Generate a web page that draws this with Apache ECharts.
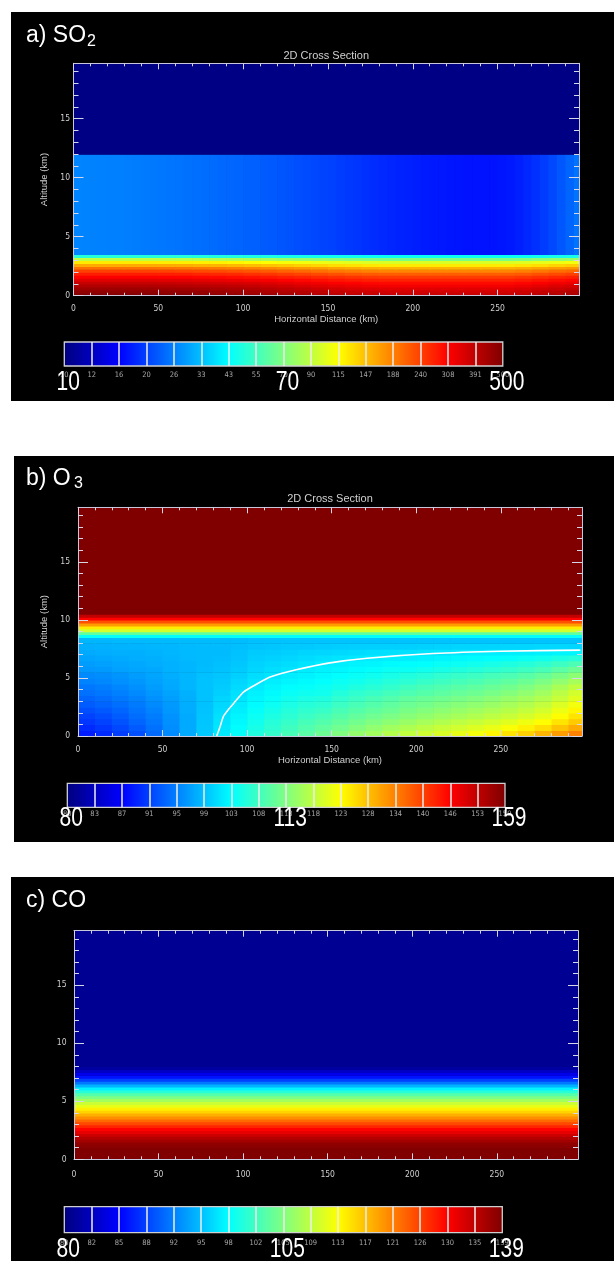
<!DOCTYPE html>
<html><head><meta charset="utf-8">
<script src="https://cdn.jsdelivr.net/npm/echarts@6/dist/echarts.min.js"></script>
<style>html,body{margin:0;padding:0;background:#fff}#c{width:614px;height:1261px}</style>
</head><body><div id="c"></div>
<script>
// ---------------- DATA ----------------
const distMax = 298;          // km, right edge of the cross section
const altMax = 19.7;          // km, top of the cross section
const xMajorTicks = [0, 50, 100, 150, 200, 250];
const xMinorTicks = [0,10,20,30,40,50,60,70,80,90,100,110,120,130,140,150,160,170,180,190,200,210,220,230,240,250,260,270,280,290];
const yMajorTicks = [0, 5, 10, 15];
const yMinorTicks = [0,1,2,3,4,5,6,7,8,9,10,11,12,13,14,15,16,17,18,19];
const bigIdx = [0, 8, 16];    // colour-bar boundaries that carry the large labels

// a) SO2  (log colour scale 10 .. 500)
const so2Range = [10, 500];
const so2Ticks = ['10','12','16','20','26','33','43','55','70','90','115','147','188','240','308','391','500'];
const so2Big = ['10','70','500'];
// surface layer 0 .. 3.5 km (10 km columns, 0.25 km rows)
const so2DistEdges = [0,10,20,30,40,50,60,70,80,90,100,110,120,130,140,150,160,170,180,190,200,210,220,230,240,250,260,270,280,290,298];
const so2AltEdges = [0,0.25,0.5,0.75,1,1.25,1.5,1.75,2,2.25,2.5,2.75,3,3.25,3.5];
const so2Rows = [
  [490,490,490,490,490,487,482,477,470,463,454,444,433,422,411,400,391,384,380,380,380,380,380,380,380,380,388,400,413,424],
  [470,470,470,470,470,467,463,457,451,444,435,426,415,405,394,384,376,369,365,365,365,365,365,365,365,365,372,384,397,407],
  [445,445,445,445,445,442,438,433,427,420,412,403,393,383,373,363,355,349,345,345,345,345,345,345,345,345,352,363,375,385],
  [415,415,415,415,415,412,408,404,398,391,384,375,366,356,347,337,330,324,320,320,320,320,320,320,320,320,327,337,349,358],
  [380,380,380,380,380,377,374,370,365,359,352,344,336,327,319,310,304,298,295,295,295,295,295,295,295,295,301,310,321,329],
  [345,345,345,345,345,343,340,336,332,326,320,314,306,299,291,284,278,273,270,270,270,270,270,270,270,270,275,284,293,300],
  [310,310,310,310,310,308,305,302,298,294,289,283,276,270,263,257,252,248,245,245,245,245,245,245,245,245,250,257,265,271],
  [275,275,275,275,275,273,271,268,264,260,255,250,244,238,232,226,221,217,215,215,215,215,215,215,215,215,219,226,233,239],
  [240,240,240,240,240,238,236,233,230,226,222,217,211,206,200,195,191,187,185,185,185,185,185,185,185,185,189,195,202,207],
  [200,200,200,200,200,199,197,195,192,189,185,181,177,172,168,163,160,157,155,155,155,155,155,155,155,155,158,163,169,173],
  [160,160,160,160,160,159,158,156,154,151,148,145,142,138,135,131,129,126,125,125,125,125,125,125,125,125,127,131,136,139],
  [125,125,125,125,125,124,123,122,121,119,117,115,112,110,107,105,103,101,100,100,100,100,100,100,100,100,102,105,108,110],
  [90,90,90,90,90,89,89,88,86,85,83,82,80,78,76,74,72,71,70,70,70,70,70,70,70,70,71,74,76,78],
  [50,50,50,50,50,50,50,49,49,49,48,48,47,47,46,46,46,45,45,45,45,45,45,45,45,45,45,46,47,47]
];
// mid layer 3.5 .. 12 km (5 km columns) and upper layer 12 .. 19.7 km
const so2MidDistEdges = [0,5,10,15,20,25,30,35,40,45,50,55,60,65,70,75,80,85,90,95,100,105,110,115,120,125,130,135,140,145,150,155,160,165,170,175,180,185,190,195,200,205,210,215,220,225,230,235,240,245,250,255,260,265,270,275,280,285,290,295,298];
const so2MidAltEdges = [3.5, 12, 19.7];
const so2MidRows = [
  [27.0,26.9,26.8,26.7,26.6,26.5,26.4,26.2,26.1,25.9,25.7,25.5,25.3,25.1,24.9,24.7,24.5,24.3,24.1,23.9,23.6,23.4,23.1,22.8,22.6,22.3,22.0,21.7,21.4,21.1,20.8,20.5,20.2,19.9,19.6,19.3,19.0,18.8,18.6,18.4,18.2,18.0,17.9,17.8,17.7,17.6,17.5,17.5,17.5,17.5,17.7,17.9,18.3,18.9,19.6,20.5,21.5,22.7,24.0,25.3],
  10.2
];

// b) O3  (log colour scale 80 .. 159)
const o3Range = [80, 159];
const o3Ticks = ['80','83','87','91','95','99','103','108','113','118','123','128','134','140','146','153','159'];
const o3Big = ['80','113','159'];
const o3DistEdges = [0,10,20,30,40,50,60,70,80,90,100,110,120,130,140,150,160,170,180,190,200,210,220,230,240,250,260,270,280,290,298];
const o3AltEdges = [0,0.5,1,1.5,2,2.5,3,3.5,4,4.5,5,5.5,6,6.5,7,7.5,8,8.5,8.75,9,9.25,9.5,9.75,10,10.25,10.5,19.7];
const o3Rows = [
  [88.8,89.6,90.8,91.9,93.6,95.6,97.7,99.8,102.1,103.8,105.7,107.1,108.5,109.9,111.3,112.8,114.3,115.3,116.8,117.8,118.8,119.8,120.9,121.9,123.6,125.2,126.8,129.1,131.3,133.6],
  [89.6,90.4,91.4,92.6,94.0,95.8,97.7,99.7,101.9,103.4,105.2,106.6,108.0,109.2,110.4,111.6,112.9,114.1,115.3,116.3,117.3,118.3,119.1,120.1,121.2,122.5,124.1,125.7,127.9,130.2],
  [90.4,91.1,92.1,93.2,94.4,96.0,97.7,99.6,101.6,103.1,104.7,106.1,107.3,108.5,109.4,110.6,111.7,112.8,113.8,114.8,115.7,116.6,117.5,118.3,119.3,120.4,121.6,123.0,125.2,127.4],
  [91.1,91.8,92.7,93.8,94.8,96.2,97.8,99.5,101.4,102.8,104.3,105.5,106.6,107.6,108.5,109.6,110.7,111.6,112.5,113.3,114.2,115.0,115.8,116.6,117.5,118.4,119.5,120.9,123.0,125.2],
  [91.9,92.5,93.3,94.2,95.2,96.5,97.9,99.4,101.1,102.4,103.8,104.9,106.0,106.9,107.5,108.7,109.6,110.5,111.3,112.3,113.0,113.8,114.5,115.3,116.1,117.0,118.0,119.3,121.4,123.6],
  [92.7,93.2,93.9,94.7,95.6,96.7,98.0,99.3,100.8,102.1,103.3,104.3,105.3,106.1,106.6,107.7,108.7,109.5,110.4,111.3,111.9,112.6,113.3,114.0,114.8,115.7,116.7,118.0,120.0,121.9],
  [93.2,93.8,94.4,95.1,96.0,97.0,98.1,99.3,100.6,101.7,102.9,103.8,104.6,105.3,105.7,106.8,107.7,108.6,109.4,110.4,111.0,111.5,112.1,112.8,113.6,114.5,115.5,116.6,118.3,120.4],
  [94.0,94.4,95.0,95.6,96.5,97.3,98.2,99.3,100.3,101.4,102.5,103.2,104.0,104.5,104.7,105.9,106.8,107.5,108.3,109.0,109.6,110.2,110.8,111.4,112.2,113.1,114.1,115.3,117.3,119.3],
  [94.4,94.8,95.4,96.0,96.9,97.6,98.5,99.3,100.0,101.0,102.1,102.8,103.4,103.8,104.3,104.9,105.7,106.4,107.1,108.0,108.7,109.2,109.8,110.4,111.1,111.8,112.8,114.1,116.0,117.8],
  [95.2,95.5,96.0,96.5,97.1,97.8,98.5,99.3,99.8,100.7,101.6,102.3,102.8,103.2,103.6,104.2,104.7,105.4,106.1,106.6,107.3,107.9,108.5,109.0,109.7,110.4,111.3,112.5,114.1,115.8],
  [95.6,95.9,96.3,96.9,97.4,98.0,98.6,99.2,99.5,100.3,101.2,101.7,102.2,102.6,103.1,103.5,104.0,104.5,105.1,105.7,106.2,106.8,107.3,107.8,108.4,108.9,109.7,110.8,112.3,113.8],
  [96.5,96.7,97.1,97.4,97.6,98.2,98.6,99.0,99.3,99.9,100.7,101.2,101.6,102.2,102.6,102.9,103.3,103.7,104.2,104.2,104.7,105.2,105.7,106.1,106.6,107.1,107.8,108.7,110.0,111.3],
  [96.9,97.1,97.4,97.6,97.9,98.2,98.6,98.9,99.2,99.7,100.5,100.8,101.2,101.6,102.2,102.4,102.7,102.9,103.2,103.4,103.6,104.0,104.3,104.7,105.1,105.6,106.1,106.8,107.8,108.9],
  [97.3,97.5,97.7,97.9,98.1,98.4,98.7,98.9,99.0,99.4,100.1,100.4,100.7,101.1,101.4,101.7,102.0,102.2,102.4,102.3,102.5,102.8,103.0,103.3,103.5,103.8,104.2,104.7,105.5,106.2],
  [97.7,97.9,98.1,98.1,98.3,98.5,98.8,98.9,98.9,99.3,99.9,100.0,100.3,100.6,100.7,100.9,101.1,101.3,101.4,101.5,101.6,101.8,102.0,102.2,102.3,102.4,102.4,102.6,102.8,102.9],
  [98.1,98.2,98.3,98.4,98.5,98.6,98.8,98.9,98.9,99.1,99.4,99.6,99.8,99.8,100.0,100.1,100.2,100.3,100.3,100.3,100.4,100.5,100.6,100.6,100.6,100.7,100.7,100.8,100.8,100.7],
  [98.6,98.6,98.7,98.7,98.8,98.8,98.9,98.9,98.9,99.0,99.2,99.3,99.4,99.4,99.4,99.4,99.4,99.4,99.4,99.4,99.4,99.4,99.4,99.4,99.4,99.4,99.4,99.4,99.4,99.4],
  103.8, 110.4, 119.3, 124.6, 131.3, 138.4, 145.8, 152.2,
  159
];
// white contour line in panel b (distance km, altitude km)
const o3ContourDist = [82,84,86,89,92,98,106,114,129,149,171,210,250,297];
const o3ContourAlt  = [0,0.8,1.7,2.3,2.8,3.8,4.5,5.1,5.7,6.3,6.7,7.1,7.3,7.4];

// c) CO  (log colour scale 80 .. 139)
const coRange = [80, 139];
const coTicks = ['80','82','85','88','92','95','98','102','105','109','113','117','121','126','130','135','139'];
const coBig = ['80','105','139'];
const coDistEdges = [0, 298];
const coAltEdges = [0,0.25,0.5,0.75,1,1.25,1.5,1.75,2,2.25,2.5,2.75,3,3.25,3.5,3.75,4,4.25,4.5,4.75,5,5.25,5.5,5.75,6,6.25,6.5,6.75,7,7.25,7.5,7.75,8,19.7];
const coRows = [139,139,139,139,138.4,137.7,136.4,135.2,133.3,131.4,129.6,127.2,124.8,122.5,120.2,118.0,115.8,114.0,111.6,109.8,107.4,105.2,103.0,100.6,97.8,94.5,91.4,88.8,86.5,84.8,83.0,81.5,80.8];

// ---------------- STYLE / LAYOUT ----------------
const JET = ['#000080','#0000ff','#0080ff','#00ffff','#80ff80','#ffff00','#ff8000','#ff0000','#800000'];
const FRAME = '#c6c6dc', TICKC = '#d6d6e6', LBL = '#cfcfcf', NAMEC = '#d0d0d0';
const TICK_FONT = "'Liberation Sans Narrow','DejaVu Sans Condensed',sans-serif";
const NAME_FONT = "'Liberation Sans',Arial,sans-serif";

function buildCells(distEdges, altEdges, rows) {
  const out = [];
  rows.forEach((row, r) => {
    const y0 = altEdges[r], y1 = altEdges[r + 1];
    if (typeof row === 'number') {
      out.push([distEdges[0], distEdges[distEdges.length - 1], y0, y1, row, Math.log10(row)]);
    } else {
      row.forEach((v, c) => out.push([distEdges[c], distEdges[c + 1], y0, y1, v, Math.log10(v)]));
    }
  });
  return out;
}

const grids = [], xAxes = [], yAxes = [], series = [], visualMaps = [], graphics = [], bigLabelJobs = [];

function addPlot(P) {
  const gi = grids.length;
  grids.push({left: P.left, top: P.top, width: P.width, height: P.height, show: false, containLabel: false, outerBoundsMode: 'none'});
  const tickStyle = {color: TICKC, width: 1};
  const base = {type: 'value', gridIndex: gi, z: 10, silent: true, splitLine: {show: false}};
  const lineOn = {show: true, onZero: false, lineStyle: {color: FRAME, width: 1}};
  const lineOff = {show: false, onZero: false};
  const xi = xAxes.length, yi = yAxes.length;
  const xb = {min: 0, max: distMax}, yb = {min: 0, max: altMax};
  xAxes.push(Object.assign({}, base, xb, {position: 'bottom', interval: 10, axisLine: lineOn,
    axisTick: {show: true, inside: true, length: 3, customValues: xMinorTicks, lineStyle: tickStyle},
    axisLabel: {show: true, customValues: xMajorTicks, margin: P.xLabelMargin, color: LBL, fontSize: 8.5, fontFamily: TICK_FONT,
      formatter: v => String(Math.round(v))},
    name: P.xName, nameLocation: 'middle', nameGap: P.xNameGap,
    nameTextStyle: {color: NAMEC, fontSize: 9.5, fontFamily: NAME_FONT}}));
  xAxes.push(Object.assign({}, base, xb, {position: 'bottom', interval: 50, axisLine: lineOff,
    axisTick: {show: true, inside: true, length: 6, customValues: xMajorTicks, lineStyle: tickStyle}, axisLabel: {show: false}}));
  xAxes.push(Object.assign({}, base, xb, {position: 'top', interval: 10, axisLine: lineOn,
    axisTick: {show: true, inside: true, length: 3, customValues: xMinorTicks, lineStyle: tickStyle}, axisLabel: {show: false},
    name: P.title, nameLocation: 'middle', nameGap: P.titleGap,
    nameTextStyle: {color: NAMEC, fontSize: 11, fontFamily: NAME_FONT}}));
  xAxes.push(Object.assign({}, base, xb, {position: 'top', interval: 50, axisLine: lineOff,
    axisTick: {show: true, inside: true, length: 6, customValues: xMajorTicks, lineStyle: tickStyle}, axisLabel: {show: false}}));
  yAxes.push(Object.assign({}, base, yb, {position: 'left', interval: 1, axisLine: lineOn,
    axisTick: {show: true, inside: true, length: 5, customValues: yMinorTicks, lineStyle: tickStyle},
    axisLabel: {show: true, customValues: yMajorTicks, margin: P.yLabelMargin, color: LBL, fontSize: 8.5, fontFamily: TICK_FONT,
      formatter: v => String(Math.round(v))},
    name: P.yName, nameLocation: 'middle', nameGap: P.yNameGap,
    nameTextStyle: {color: NAMEC, fontSize: 9.5, fontFamily: NAME_FONT}}));
  yAxes.push(Object.assign({}, base, yb, {position: 'left', interval: 5, axisLine: lineOff,
    axisTick: {show: true, inside: true, length: 10, customValues: yMajorTicks, lineStyle: tickStyle}, axisLabel: {show: false}}));
  yAxes.push(Object.assign({}, base, yb, {position: 'right', interval: 1, axisLine: lineOn,
    axisTick: {show: true, inside: true, length: 5, customValues: yMinorTicks, lineStyle: tickStyle}, axisLabel: {show: false}}));
  yAxes.push(Object.assign({}, base, yb, {position: 'right', interval: 5, axisLine: lineOff,
    axisTick: {show: true, inside: true, length: 10, customValues: yMajorTicks, lineStyle: tickStyle}, axisLabel: {show: false}}));
  return {xi, yi};
}

function addCells(ax, data) {
  series.push({type: 'custom', xAxisIndex: ax.xi, yAxisIndex: ax.yi, data, clip: true, silent: true, z: 2,
    encode: {x: [0, 1], y: [2, 3]},
    renderItem(params, api) {
      const a = api.coord([api.value(0), api.value(2)]);
      const b = api.coord([api.value(1), api.value(3)]);
      return {type: 'rect', shape: {x: a[0], y: b[1], width: b[0] - a[0] + 0.7, height: a[1] - b[1] + 0.7},
        style: {fill: api.visual('color')}};
    }});
  return series.length - 1;
}

function addColorbar(C, seriesIndex, range, ticks, big) {
  const gi = grids.length;
  grids.push({left: C.left, top: C.top, width: C.width, height: C.height, show: true, z: 10,
    borderColor: '#cfcfcf', borderWidth: 1.3, backgroundColor: 'transparent', containLabel: false, outerBoundsMode: 'none'});
  const xi = xAxes.length, yi = yAxes.length;
  xAxes.push({type: 'value', gridIndex: gi, min: 0, max: 16, interval: 1, position: 'bottom', z: 10, silent: true,
    axisLine: {show: false, onZero: false}, axisTick: {show: false},
    splitLine: {show: true, showMinLine: false, showMaxLine: false, lineStyle: {color: '#eeeeee', width: 1.5}},
    axisLabel: {show: true, margin: C.smallMargin, color: '#a6a6a6', fontSize: 7.5, fontFamily: TICK_FONT,
      formatter: v => ticks[Math.round(v)]}});
  yAxes.push({type: 'value', gridIndex: gi, min: 0, max: 1, show: false, axisLine: {onZero: false}});
  visualMaps.push({type: 'continuous', seriesIndex, dimension: 5,
    min: Math.log10(range[0]), max: Math.log10(range[1]),
    orient: 'horizontal', left: C.left, top: C.top, itemHeight: C.width, itemWidth: C.height,
    padding: 0, calculable: false, hoverLink: false, realtime: false, z: 4,
    inRange: {color: JET}, textStyle: {color: 'rgba(0,0,0,0)'}});
  bigLabelJobs.push({xi, yi, big, dx: C.bigDx, dy: C.bigDy});
}

// ---- panel backgrounds ----
graphics.push({type: 'rect', shape: {x: 11, y: 12, width: 603, height: 389}, style: {fill: '#000'}, z: 0, silent: true});
graphics.push({type: 'rect', shape: {x: 14, y: 456, width: 600, height: 386}, style: {fill: '#000'}, z: 0, silent: true});
graphics.push({type: 'rect', shape: {x: 11, y: 877, width: 603, height: 384}, style: {fill: '#000'}, z: 0, silent: true});

function panelLabel(x, y, main, sub, subX, subY) {
  graphics.push({type: 'text', x: x, y: y, z: 20, silent: true,
    style: {text: main, fill: '#fff', fontSize: 23, fontFamily: NAME_FONT, align: 'left', verticalAlign: 'middle'}});
  if (sub) graphics.push({type: 'text', x: subX, y: subY, z: 20, silent: true,
    style: {text: sub, fill: '#fff', fontSize: 16, fontFamily: NAME_FONT, align: 'left', verticalAlign: 'middle'}});
}
panelLabel(26, 35.3, 'a) SO', '2', 87, 41.2);
panelLabel(26, 478.7, 'b) O', '3', 74, 483.8);
panelLabel(26, 900.3, 'c) CO', '', 0, 0);

// ---- panel a ----
const axA = addPlot({left: 73.5, top: 63.3, width: 505.5, height: 232.4, xLabelMargin: 8.5, yLabelMargin: 3.5,
  xName: 'Horizontal Distance (km)', xNameGap: 17.5, title: '2D Cross Section', titleGap: 1.5,
  yName: 'Altitude (km)', yNameGap: 14});
const sA = addCells(axA, buildCells(so2DistEdges, so2AltEdges, so2Rows)
  .concat(buildCells(so2MidDistEdges, so2MidAltEdges, so2MidRows)));
addColorbar({left: 64.3, top: 342, width: 438.5, height: 24, smallMargin: 5.5, bigDx: 4, bigDy: 16}, sA, so2Range, so2Ticks, so2Big);

// ---- panel b ----
const axB = addPlot({left: 78, top: 507.3, width: 504, height: 228.7, xLabelMargin: 9, yLabelMargin: 8,
  xName: 'Horizontal Distance (km)', xNameGap: 18.5, title: '2D Cross Section', titleGap: 2.5,
  yName: 'Altitude (km)', yNameGap: 17.5});
const sB = addCells(axB, buildCells(o3DistEdges, o3AltEdges, o3Rows));
series.push({type: 'line', xAxisIndex: axB.xi, yAxisIndex: axB.yi, z: 5, silent: true, showSymbol: false,
  data: o3ContourDist.map((d, i) => [d, o3ContourAlt[i]]), lineStyle: {color: '#ffffff', width: 1.6}, smooth: 0.2});
addColorbar({left: 67.3, top: 783.3, width: 437.7, height: 24, smallMargin: 2.5, bigDx: 4, bigDy: 11}, sB, o3Range, o3Ticks, o3Big);

// ---- panel c ----
const axC = addPlot({left: 74, top: 930.7, width: 504, height: 228.6, xLabelMargin: 10.5, yLabelMargin: 7.5,
  xName: '', xNameGap: 18, title: '', titleGap: 3, yName: '', yNameGap: 23});
const sC = addCells(axC, buildCells(coDistEdges, coAltEdges, coRows));
addColorbar({left: 64.3, top: 1206.7, width: 438, height: 26, smallMargin: 6, bigDx: 4, bigDy: 16.5}, sC, coRange, coTicks, coBig);

const chart = echarts.init(document.getElementById('c'), null, {renderer: 'canvas'});
chart.setOption({
  animation: false,
  backgroundColor: '#ffffff',
  grid: grids, xAxis: xAxes, yAxis: yAxes, series: series, visualMap: visualMaps,
  graphic: {elements: graphics}
});

// large colour-bar labels, placed through the colour-bar axes
bigLabelJobs.forEach(job => {
  const yBottom = chart.convertToPixel({yAxisIndex: job.yi}, 0);
  job.big.forEach((txt, k) => {
    const px = chart.convertToPixel({xAxisIndex: job.xi}, bigIdx[k]);
    graphics.push({type: 'text', x: px + job.dx, y: yBottom + job.dy, z: 30, silent: true, scaleY: 1.33,
      style: {text: txt, fill: '#fff', fontSize: 21, fontFamily: NAME_FONT, align: 'center', verticalAlign: 'middle'}});
  });
});
chart.setOption({graphic: {elements: graphics}});
</script></body></html>
